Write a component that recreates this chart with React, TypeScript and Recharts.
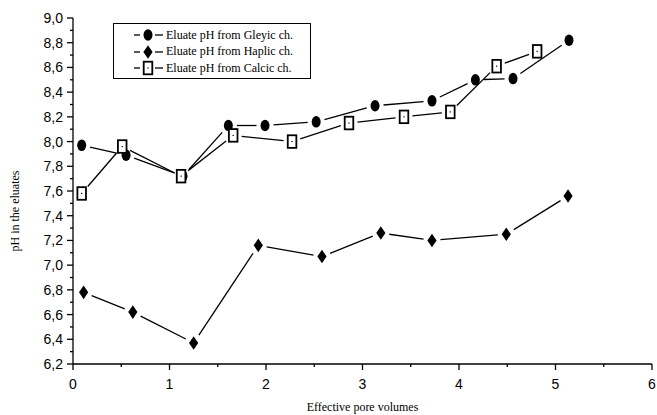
import React from 'react'
import { LineChart, Line, XAxis, YAxis, Legend } from 'recharts'

// pore volume / pH readings for the three soil eluates
const GLEYIC_PV = [0.09, 0.55, 1.14, 1.61, 1.99, 2.52, 3.13, 3.72, 4.17, 4.56, 5.14]
const GLEYIC_PH = [7.97, 7.89, 7.72, 8.13, 8.13, 8.16, 8.29, 8.33, 8.5, 8.51, 8.82]

const HAPLIC_PV = [0.11, 0.62, 1.25, 1.92, 2.58, 3.19, 3.72, 4.49, 5.13]
const HAPLIC_PH = [6.78, 6.62, 6.37, 7.16, 7.07, 7.26, 7.2, 7.25, 7.56]

const CALCIC_PV = [0.09, 0.51, 1.12, 1.66, 2.27, 2.86, 3.43, 3.91, 4.39, 4.81]
const CALCIC_PH = [7.58, 7.96, 7.72, 8.05, 8.0, 8.15, 8.2, 8.24, 8.61, 8.73]

const SERIES_NAMES = ['Eluate pH from Gleyic ch.', 'Eluate pH from Haplic ch.', 'Eluate pH from Calcic ch.']

const X_TICKS = [0, 0.5, 1, 1.5, 2, 2.5, 3, 3.5, 4, 4.5, 5, 5.5, 6]
const Y_TICKS = [
  6.2, 6.3, 6.4, 6.5, 6.6, 6.7, 6.8, 6.9, 7.0, 7.1, 7.2, 7.3, 7.4, 7.5,
  7.6, 7.7, 7.8, 7.9, 8.0, 8.1, 8.2, 8.3, 8.4, 8.5, 8.6, 8.7, 8.8, 8.9, 9.0,
]

const toRows = (pv: number[], ph: number[]) => pv.map((x, i) => ({ x, ph: ph[i] }))

const gleyic = toRows(GLEYIC_PV, GLEYIC_PH)
const haplic = toRows(HAPLIC_PV, HAPLIC_PH)
const calcic = toRows(CALCIC_PV, CALCIC_PH)

const SERIF = '"Liberation Serif", "Times New Roman", serif'
const SANS = '"Liberation Sans", Arial, sans-serif'

type MarkerKind = 'circle' | 'diamond' | 'square'

const Marker = ({ kind, cx, cy }: { kind: MarkerKind; cx: number; cy: number }) => {
  if (kind === 'circle') {
    return <ellipse cx={cx} cy={cy} rx={4.5} ry={5.8} fill="#000" />
  }
  if (kind === 'diamond') {
    return (
      <polygon
        points={`${cx},${cy - 6.8} ${cx + 4.6},${cy} ${cx},${cy + 6.8} ${cx - 4.6},${cy}`}
        fill="#000"
      />
    )
  }
  return (
    <g>
      <rect x={cx - 4.3} y={cy - 6.3} width={8.6} height={12.6} fill="#fff" stroke="#000" strokeWidth={1.8} />
      <rect x={cx - 0.6} y={cy - 0.6} width={1.2} height={1.2} fill="#000" />
    </g>
  )
}

// lines stop short of the markers, like the plotting package does
const GAP_X = 8.5
const GAP_Y = 10

function gapSegment(p: { x: number; y: number }, q: { x: number; y: number }) {
  const dx = q.x - p.x
  const dy = q.y - p.y
  const len = Math.hypot(dx, dy)
  if (!len) return null
  const ux = dx / len
  const uy = dy / len
  const r = 1 / Math.sqrt((ux / GAP_X) ** 2 + (uy / GAP_Y) ** 2)
  if (len <= 2 * r) return null
  return { x1: p.x + ux * r, y1: p.y + uy * r, x2: q.x - ux * r, y2: q.y - uy * r }
}

const makeDot = (kind: MarkerKind) => (props: any) => {
  const { cx, cy, index, points } = props
  const next = points && points[index + 1]
  const seg = next ? gapSegment({ x: cx, y: cy }, next) : null
  return (
    <g key={`${kind}-${index}`}>
      {seg && <line {...seg} stroke="#000" strokeWidth={1.3} />}
      <Marker kind={kind} cx={cx} cy={cy} />
    </g>
  )
}

const XTick = (props: any) => {
  const { x, y, payload } = props
  const major = Number.isInteger(payload.value)
  return (
    <g>
      <line x1={x} y1={y} x2={x} y2={y + (major ? 6 : 3)} stroke="#000" strokeWidth={1.3} />
      {major && (
        <text x={x} y={y + 20} textAnchor="middle" dominantBaseline="central" fontFamily={SANS} fontSize={14} fill="#000">
          {payload.value}
        </text>
      )}
    </g>
  )
}

const YTick = (props: any) => {
  const { x, y, payload } = props
  const major = Math.round(payload.value * 10) % 2 === 0
  return (
    <g>
      <line x1={x} y1={y} x2={x - (major ? 6 : 3)} y2={y} stroke="#000" strokeWidth={1.3} />
      {major && (
        <text x={x - 10} y={y} textAnchor="end" dominantBaseline="central" fontFamily={SANS} fontSize={14} fill="#000">
          {payload.value.toFixed(1).replace('.', ',')}
        </text>
      )}
    </g>
  )
}

const LEGEND_MARKERS: MarkerKind[] = ['circle', 'diamond', 'square']

const LegendBox = () => (
  <div
    style={{
      border: '1px solid #000',
      width: 198,
      height: 56,
      boxSizing: 'border-box',
      paddingTop: 3,
      background: '#fff',
      fontFamily: SERIF,
      fontSize: 12,
      color: '#000',
    }}
  >
    {SERIES_NAMES.map((name, i) => (
      <div key={name} style={{ display: 'flex', alignItems: 'center', height: 16.5 }}>
        <svg width={52} height={16} style={{ flex: 'none' }}>
          <line x1={20} y1={8} x2={26} y2={8} stroke="#000" strokeWidth={1.3} />
          <Marker kind={LEGEND_MARKERS[i]} cx={34} cy={8} />
          <line x1={41} y1={8} x2={49} y2={8} stroke="#000" strokeWidth={1.3} />
        </svg>
        <span style={{ whiteSpace: 'nowrap' }}>{name}</span>
      </div>
    ))}
  </div>
)

export default function App() {
  return (
    <div style={{ position: 'absolute', left: 0, top: 0, background: '#fff' }}>
      <LineChart width={657} height={415} margin={{ top: 18, right: 5, left: 0, bottom: 0 }}>
        <XAxis
          type="number"
          dataKey="x"
          domain={[0, 6]}
          ticks={X_TICKS}
          interval={0}
          height={51}
          tickLine={false}
          tickSize={0}
          tickMargin={0}
          tick={<XTick />}
          axisLine={{ stroke: '#000', strokeWidth: 1.3 }}
          allowDataOverflow
          label={{
            value: 'Effective pore volumes',
            position: 'insideBottom',
            offset: 4,
            style: { fontFamily: SERIF, fontSize: 12, fill: '#000' },
          }}
        />
        <YAxis
          type="number"
          dataKey="ph"
          domain={[6.2, 9.0]}
          ticks={Y_TICKS}
          interval={0}
          width={73}
          tickLine={false}
          tickSize={0}
          tickMargin={0}
          tick={<YTick />}
          axisLine={{ stroke: '#000', strokeWidth: 1.3 }}
          allowDataOverflow
          label={(p: any) => {
            const vb = p.viewBox
            const cy = vb.y + vb.height / 2 + 20
            return (
              <text
                x={15}
                y={cy}
                transform={`rotate(-90 15 ${cy})`}
                textAnchor="middle"
                dominantBaseline="central"
                fontFamily={SERIF}
                fontSize={12}
                fill="#000"
              >
                pH in the eluates
              </text>
            )
          }}
        />
        <Legend
          layout="vertical"
          align="center"
          verticalAlign="middle"
          content={<LegendBox />}
          wrapperStyle={{ left: 113, top: 23, width: 'auto', height: 'auto' }}
        />
        <Line
          data={gleyic}
          dataKey="ph"
          name={SERIES_NAMES[0]}
          stroke="none"
          dot={makeDot('circle')}
          activeDot={false}
          isAnimationActive={false}
        />
        <Line
          data={haplic}
          dataKey="ph"
          name={SERIES_NAMES[1]}
          stroke="none"
          dot={makeDot('diamond')}
          activeDot={false}
          isAnimationActive={false}
        />
        <Line
          data={calcic}
          dataKey="ph"
          name={SERIES_NAMES[2]}
          stroke="none"
          dot={makeDot('square')}
          activeDot={false}
          isAnimationActive={false}
        />
      </LineChart>
    </div>
  )
}
